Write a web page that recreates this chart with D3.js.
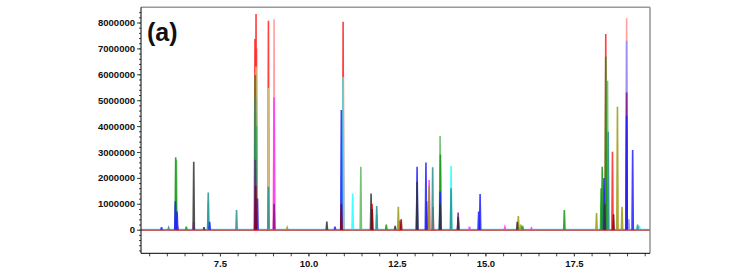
<!DOCTYPE html>
<html>
<head>
<meta charset="utf-8">
<script src="https://cdn.jsdelivr.net/npm/d3@7"></script>
<style>
body { margin: 0; background: #fff; }
svg text { font-family: Arial, "Liberation Sans", sans-serif; }
</style>
</head>
<body>
<svg id="chart" width="754" height="272"></svg>
<script>
// peaks per trace: [retention time (min), intensity]
var redPeaks = [[8.49, 7360000], [8.52, 8330000], [8.87, 8070000], [10.98, 8030000], [18.40, 7560000], [18.59, 3010000], [11.80, 1000000], [13.52, 890000], [12.58, 350000], [6.30, 150000]];
var lightRedPeaks = [[9.03, 8130000], [18.99, 8160000], [8.54, 7000000]];
var periwinklePeaks = [[18.99, 7300000], [19.05, 400000]];
var khakiPeaks = [[8.87, 5470000], [8.52, 6300000]];
var olivePeaks = [[12.54, 890000], [13.07, 1000000], [13.41, 1700000], [15.93, 530000], [18.73, 4750000], [18.14, 640000], [18.86, 890000], [16.00, 200000], [9.40, 80000]];
var lightGreenPeaks = [[11.48, 2430000], [13.72, 3620000], [18.45, 5750000], [8.53, 4000000], [6.27, 2700000]];
var greenPeaks = [[6.25, 2800000], [8.50, 5970000], [13.73, 2900000], [17.23, 760000], [18.30, 2430000], [18.27, 1600000], [18.40, 6680000], [6.55, 120000], [12.20, 200000], [16.05, 150000]];
var magentaPeaks = [[9.03, 5100000], [13.41, 1920000], [6.76, 300000], [18.42, 300000], [14.23, 400000], [14.55, 120000], [15.55, 100000], [16.30, 60000]];
var cyanPeaks = [[10.98, 5900000], [11.25, 1400000], [14.03, 2470000], [11.93, 600000], [7.17, 1100000], [19.35, 150000]];
var tealPeaks = [[7.17, 1440000], [7.97, 760000], [8.87, 1660000], [11.93, 910000], [13.51, 2410000], [14.03, 1600000], [8.50, 5100000], [18.47, 3780000], [19.30, 200000], [6.05, 80000]];
var purplePeaks = [[8.50, 2700000], [9.03, 1000000], [14.23, 660000], [18.99, 5300000], [13.34, 1100000]];
var bluePeaks = [[6.24, 1100000], [6.29, 700000], [5.85, 100000], [7.21, 300000], [8.56, 1200000], [10.93, 4620000], [13.07, 2430000], [13.32, 2590000], [13.72, 1470000], [14.85, 1380000], [14.81, 700000], [18.35, 2000000], [19.16, 3080000], [18.99, 4400000], [10.75, 120000]];
var blackPeaks = [[6.76, 2620000], [13.07, 1850000], [11.77, 1400000], [10.52, 310000], [13.72, 1000000], [18.37, 1000000], [7.05, 100000], [15.90, 300000], [14.23, 500000], [12.45, 150000]];
var maroonPeaks = [[10.93, 1000000], [11.80, 800000], [12.62, 400000], [8.51, 1700000], [18.62, 600000]];

// baseline level of each trace (intensity)
var baseLevels = {lightred: 0, red: -30000, periwinkle: 0, khaki: 0, lightgreen: 0, cyan: 20000, magenta: 10000,
  olive: 0, green: 0, teal: 0, purple: 0, blue: 0, black: 0, maroon: 0};

var traces = [
  {name: "lightred", color: "#ff9090", peaks: lightRedPeaks},
  {name: "red", color: "#ff2020", peaks: redPeaks},
  {name: "periwinkle", color: "#8c8cff", peaks: periwinklePeaks},
  {name: "khaki", color: "#cfcf8a", peaks: khakiPeaks},
  {name: "lightgreen", color: "#5fb85f", peaks: lightGreenPeaks},
  {name: "cyan", color: "#22ffff", peaks: cyanPeaks},
  {name: "magenta", color: "#ff33ff", peaks: magentaPeaks},
  {name: "olive", color: "#9a9a10", peaks: olivePeaks},
  {name: "green", color: "#119911", peaks: greenPeaks},
  {name: "teal", color: "#2a8f8f", peaks: tealPeaks},
  {name: "purple", color: "#8a108a", peaks: purplePeaks},
  {name: "blue", color: "#2020ff", peaks: bluePeaks},
  {name: "black", color: "#333333", peaks: blackPeaks},
  {name: "maroon", color: "#880010", peaks: maroonPeaks}
];
// drawing order of the baselines (last one on top)
var baseOrder = ["black", "maroon", "blue", "purple", "olive", "green", "lightgreen", "khaki", "periwinkle", "lightred", "red", "cyan", "teal", "magenta"];

var yTicks = [0, 1000000, 2000000, 3000000, 4000000, 5000000, 6000000, 7000000, 8000000];
var xTicks = [7.5, 10.0, 12.5, 15.0, 17.5];

var svg = d3.select("#chart");
var plotLeft = 141, plotRight = 650, plotTop = 7.3, plotBottom = 253.3;
var tMin = 5.27, tMax = 19.65;

var x = d3.scaleLinear().domain([tMin, tMax]).range([plotLeft, plotRight]);
var y = d3.scaleLinear().domain([-911000, 8587000]).range([plotBottom, plotTop]);

// frame (grey top and right)
svg.append("line").attr("x1", plotLeft).attr("x2", plotRight).attr("y1", plotTop).attr("y2", plotTop)
  .attr("stroke", "#9a9a9a").attr("stroke-width", 1.6);
svg.append("line").attr("x1", plotRight).attr("x2", plotRight).attr("y1", plotTop).attr("y2", plotBottom)
  .attr("stroke", "#9a9a9a").attr("stroke-width", 1.6);

var colorOf = {};
traces.forEach(function(tr){ colorOf[tr.name] = tr.color; });

// baselines
var line = d3.line().x(function(d){ return x(d[0]); }).y(function(d){ return y(d[1]); });
baseOrder.forEach(function(n){
  var b = baseLevels[n];
  svg.append("path")
    .datum([[tMin, b], [tMax, b]])
    .attr("d", line)
    .attr("fill", "none")
    .attr("stroke", colorOf[n])
    .attr("stroke-width", 1)
    .attr("stroke-opacity", 0.55);
});

// peaks
var hw = 0.018;
traces.forEach(function(tr){
  var b = baseLevels[tr.name];
  var g = svg.append("g");
  g.selectAll("path")
    .data(tr.peaks)
    .enter()
    .append("path")
    .attr("d", function(p){ return line([[p[0] - hw, b], [p[0], p[1]], [p[0] + hw, b]]); })
    .attr("fill", "none")
    .attr("stroke", tr.color)
    .attr("stroke-width", 1.6)
    .attr("stroke-opacity", 0.85);
});

// y axis: minor ticks, then labelled ticks
var gy = svg.append("g").attr("transform", "translate(" + plotLeft + ",0)");
gy.call(d3.axisLeft(y).tickValues(d3.range(-800000, 8500001, 200000)).tickSize(2).tickFormat(""));
gy.select(".domain").remove();
var gy2 = svg.append("g").attr("transform", "translate(" + plotLeft + ",0)");
gy2.call(d3.axisLeft(y).tickValues(yTicks).tickSize(4).tickPadding(2).tickFormat(d3.format("d")));
gy2.select(".domain").attr("d", "M0," + plotTop + "V" + plotBottom);
gy2.selectAll("text").style("font-size", "9.5px").style("font-weight", "bold").attr("fill", "#111");

// x axis
var gx = svg.append("g").attr("transform", "translate(0," + plotBottom + ")");
gx.call(d3.axisBottom(x).tickValues(d3.range(5.5, 19.51, 0.5)).tickSize(3).tickFormat(""));
gx.select(".domain").remove();
var gx2 = svg.append("g").attr("transform", "translate(0," + plotBottom + ")");
gx2.call(d3.axisBottom(x).tickValues(xTicks).tickSize(3).tickPadding(4).tickFormat(d3.format(".1f")));
gx2.select(".domain").attr("d", "M" + plotLeft + ",0H" + plotRight);
gx2.selectAll("text").style("font-size", "9.5px").style("font-weight", "bold").attr("fill", "#111");
svg.selectAll(".tick line").attr("stroke", "#444");

// panel label
svg.append("text").attr("x", 147).attr("y", 41).text("(a)")
  .style("font-size", "25px").style("font-weight", "bold").attr("fill", "#111");
</script>
</body>
</html>
